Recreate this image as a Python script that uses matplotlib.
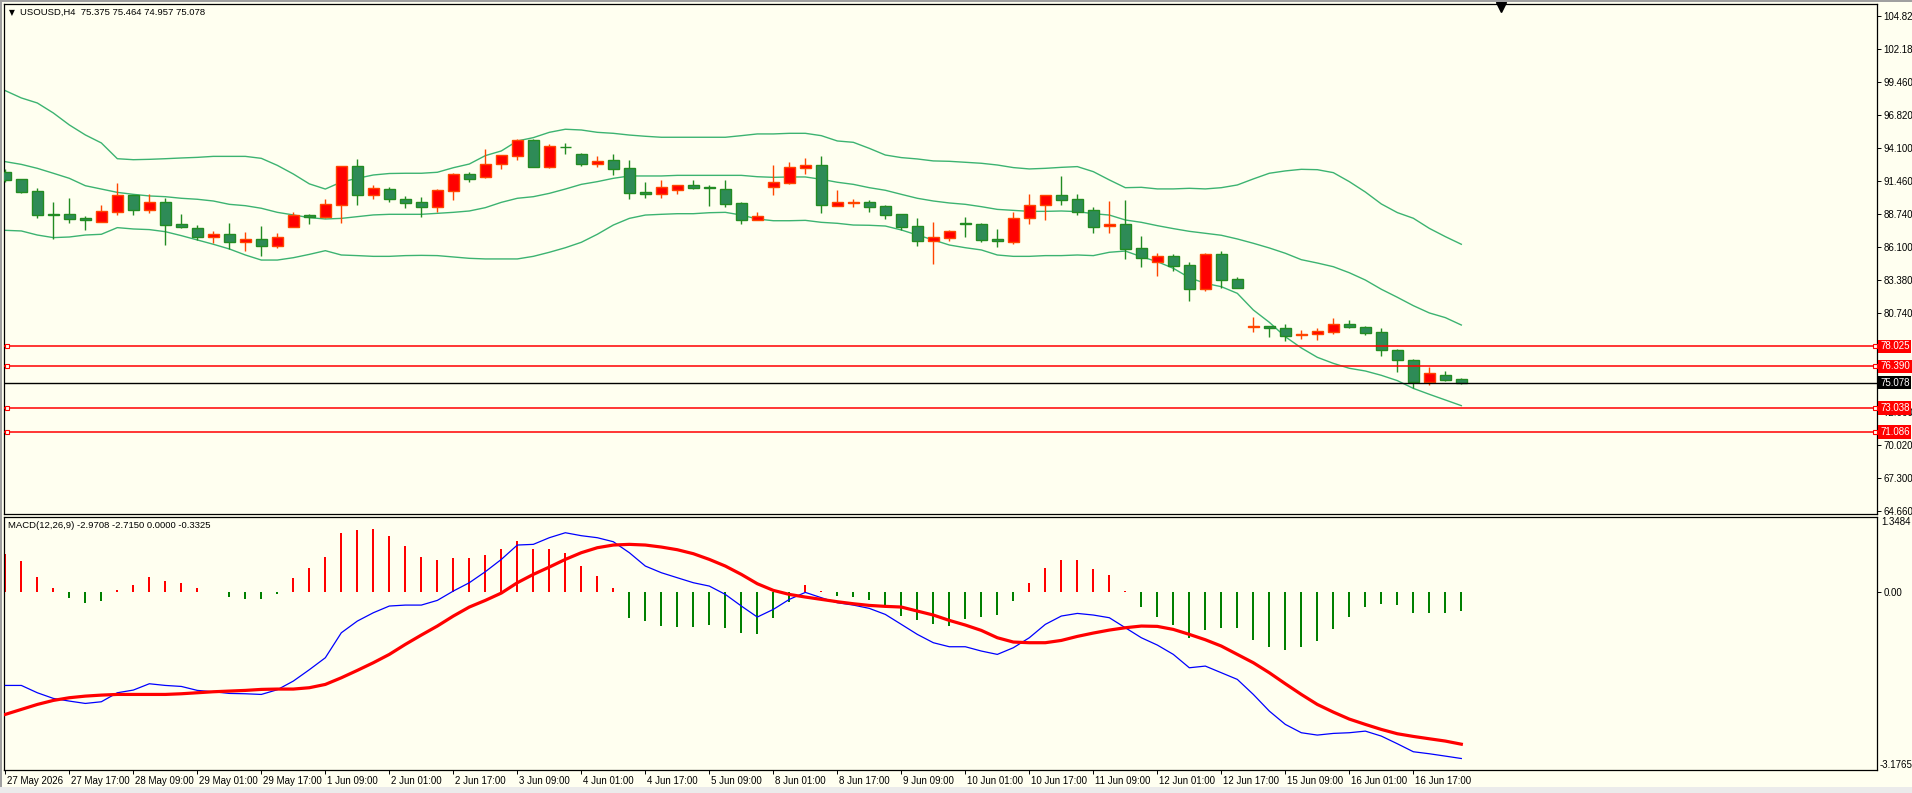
import matplotlib
matplotlib.use("Agg")
import matplotlib.pyplot as plt
import matplotlib.transforms as mtransforms
from matplotlib.patches import Rectangle

plt.rcParams['font.family'] = ['Liberation Sans', 'DejaVu Sans']

W, H, DPI = 1912, 793, 100
BG = '#FFFFF0'

# ---- price data (USOUSD, H4) ----
opens = [92.14, 91.57, 90.60, 88.73, 88.73, 88.41, 88.13, 88.95, 90.30, 89.11,
         89.70, 87.95, 87.59, 86.92, 87.13, 86.51, 86.73, 86.19, 87.73, 88.68,
         88.54, 89.46, 92.62, 90.33, 90.79, 89.97, 89.70, 89.35, 90.65, 91.98,
         91.79, 92.79, 93.49, 94.76, 92.60, 94.22, 93.60, 92.79, 93.11, 92.46,
         90.51, 90.41, 90.73, 91.11, 90.95, 90.76, 89.62, 88.30, 90.97, 91.30,
         92.52, 92.71, 89.43, 89.68, 89.70, 89.41, 88.73, 87.76, 86.59, 86.84,
         88.00, 87.92, 86.70, 86.51, 88.41, 89.46, 90.27, 89.95, 89.05, 87.76,
         87.92, 85.97, 84.89, 85.32, 84.59, 82.70, 85.48, 83.46, 79.56, 79.67,
         79.48, 78.91, 78.99, 79.21, 79.81, 79.56, 79.16, 77.70, 76.89, 75.10,
         75.67, 75.375]
highs = [92.41, 91.60, 90.87, 89.73, 90.05, 88.59, 89.49, 91.27, 90.30, 90.35,
         90.03, 88.76, 87.86, 87.38, 88.03, 87.30, 87.78, 87.22, 88.92, 88.78,
         89.97, 92.62, 93.22, 91.11, 90.95, 90.22, 90.14, 90.79, 92.08, 92.16,
         94.06, 93.54, 94.81, 94.84, 94.41, 94.52, 93.71, 93.46, 93.62, 93.14,
         91.35, 91.52, 91.11, 91.52, 91.11, 91.52, 89.70, 88.92, 92.73, 92.98,
         93.30, 93.46, 90.70, 89.97, 89.89, 89.49, 88.73, 88.43, 88.11, 87.46,
         88.51, 88.00, 87.54, 88.95, 90.38, 90.30, 91.84, 90.38, 89.32, 89.81,
         89.89, 86.97, 85.59, 85.51, 84.86, 85.59, 85.76, 83.65, 80.40, 79.67,
         79.81, 79.32, 79.51, 80.32, 80.16, 79.67, 79.48, 77.78, 76.97, 76.37,
         76.02, 75.464]
lows = [91.33, 90.46, 88.46, 86.76, 88.05, 87.46, 88.13, 88.68, 88.68, 88.84,
        86.24, 87.62, 86.65, 86.40, 85.92, 85.76, 85.35, 86.03, 87.73, 87.95,
        88.46, 88.03, 89.49, 89.97, 89.73, 89.24, 88.51, 88.92, 89.89, 91.35,
        91.70, 92.41, 93.14, 92.60, 92.52, 93.65, 92.68, 92.60, 91.92, 89.97,
        90.08, 90.05, 90.38, 90.79, 89.43, 89.32, 87.97, 88.24, 90.30, 91.19,
        92.00, 88.84, 89.38, 89.32, 88.92, 88.38, 87.43, 86.16, 84.73, 86.57,
        86.92, 86.51, 86.11, 86.35, 87.97, 88.30, 89.51, 88.70, 87.24, 87.24,
        85.13, 84.46, 83.75, 84.16, 81.73, 82.54, 82.73, 82.78, 79.21, 78.81,
        78.48, 78.64, 78.56, 79.05, 79.48, 78.97, 77.26, 75.97, 74.67, 74.91,
        75.24, 74.957]
closes = [91.54, 90.57, 88.70, 88.71, 88.38, 88.30, 88.97, 90.30, 89.11, 89.70,
          87.89, 87.73, 86.92, 87.13, 86.51, 86.70, 86.19, 86.86, 88.65, 88.54,
          89.54, 92.62, 90.30, 90.87, 90.00, 89.68, 89.35, 90.68, 91.98, 91.62,
          92.79, 93.52, 94.76, 92.60, 94.25, 94.17, 92.84, 93.03, 92.43, 90.49,
          90.41, 90.92, 91.08, 90.89, 90.84, 89.60, 88.30, 88.57, 91.33, 92.54,
          92.73, 89.51, 89.70, 89.73, 89.35, 88.70, 87.73, 86.59, 86.86, 87.35,
          87.92, 86.67, 86.59, 88.41, 89.46, 90.27, 89.92, 88.95, 87.73, 87.92,
          85.94, 85.21, 85.32, 84.57, 82.70, 85.48, 83.43, 82.78, 79.64, 79.48,
          78.89, 78.99, 79.24, 79.81, 79.56, 79.13, 77.70, 76.89, 75.10, 75.83,
          75.32, 75.078]

# Bollinger bands
bb_upper = [98.76, 98.17, 97.76, 96.95, 95.98, 95.17, 94.52, 93.24, 93.16, 93.19,
            93.24, 93.30, 93.35, 93.43, 93.43, 93.43, 93.27, 92.70, 92.00, 91.20,
            90.78, 91.35, 91.65, 91.92, 92.04, 92.06, 92.06, 92.14, 92.51, 92.81,
            93.49, 93.87, 94.68, 94.95, 95.38, 95.63, 95.57, 95.38, 95.30, 95.16,
            95.06, 94.98, 94.98, 94.98, 94.98, 94.98, 95.11, 95.25, 95.25, 95.30,
            95.30, 95.11, 94.68, 94.57, 94.08, 93.54, 93.33, 93.22, 93.06, 93.03,
            92.95, 92.87, 92.73, 92.52, 92.41, 92.46, 92.54, 92.60, 92.19, 91.52,
            90.89, 90.92, 90.79, 90.79, 90.84, 90.79, 90.89, 91.11, 91.60, 92.06,
            92.25, 92.38, 92.35, 92.11, 91.38, 90.54, 89.57, 88.87, 88.41, 87.59,
            86.92, 86.30]
bb_middle = [93.00, 92.78, 92.46, 92.06, 91.65, 91.05, 90.78, 90.51, 90.35, 90.22,
             90.16, 90.03, 89.95, 89.81, 89.54, 89.43, 89.22, 88.89, 88.68, 88.46,
             88.35, 88.40, 88.54, 88.68, 88.73, 88.73, 88.73, 88.81, 88.89, 89.00,
             89.27, 89.70, 90.03, 90.16, 90.43, 90.78, 91.16, 91.38, 91.65, 91.84,
             91.84, 91.84, 91.89, 91.89, 91.89, 91.89, 91.89, 91.78, 91.73, 91.76,
             91.76, 91.57, 91.33, 91.16, 90.89, 90.68, 90.35, 90.03, 89.81, 89.65,
             89.54, 89.35, 89.13, 89.05, 88.97, 88.97, 89.00, 88.95, 88.78, 88.67,
             88.27, 88.08, 87.81, 87.57, 87.35, 87.19, 87.03, 86.73, 86.38, 86.00,
             85.57, 85.05, 84.78, 84.48, 83.99, 83.40, 82.65, 82.00, 81.32, 80.73,
             80.35, 79.75]
bb_lower = [87.43, 87.38, 87.05, 86.84, 86.89, 87.05, 87.11, 87.65, 87.54, 87.49,
            87.32, 87.00, 86.65, 86.30, 85.92, 85.43, 85.02, 85.02, 85.21, 85.48,
            85.78, 85.43, 85.38, 85.32, 85.32, 85.38, 85.40, 85.38, 85.27, 85.16,
            85.11, 85.11, 85.11, 85.32, 85.65, 86.02, 86.46, 87.11, 87.86, 88.40,
            88.67, 88.73, 88.78, 88.78, 88.86, 88.89, 88.67, 88.35, 88.21, 88.21,
            88.24, 88.08, 88.00, 87.86, 87.84, 87.78, 87.46, 87.05, 86.65, 86.24,
            86.02, 85.84, 85.43, 85.32, 85.32, 85.38, 85.38, 85.43, 85.38, 85.65,
            85.75, 85.29, 84.89, 84.35, 83.59, 83.13, 82.86, 82.32, 80.97, 79.97,
            78.80, 77.89, 77.13, 76.64, 76.24, 76.02, 75.67, 75.24, 74.61, 74.13,
            73.67, 73.21]

# MACD(12,26,9)
macd_main = [-1.664, -1.664, -1.795, -1.896, -1.944, -1.986, -1.956, -1.795, -1.747, -1.634,
             -1.664, -1.682, -1.753, -1.777, -1.807, -1.813, -1.825, -1.741, -1.586, -1.383,
             -1.169, -0.722, -0.513, -0.364, -0.244, -0.227, -0.227, -0.143, 0.024, 0.173,
             0.370, 0.590, 0.847, 0.859, 0.978, 1.067, 1.014, 0.978, 0.906, 0.710,
             0.471, 0.352, 0.262, 0.173, 0.113, -0.036, -0.244, -0.441, -0.304, -0.125,
             0.000, -0.095, -0.185, -0.227, -0.286, -0.394, -0.572, -0.751, -0.900, -0.972,
             -0.972, -1.049, -1.109, -0.990, -0.811, -0.572, -0.423, -0.376, -0.405, -0.453,
             -0.632, -0.811, -0.942, -1.109, -1.348, -1.318, -1.437, -1.556, -1.825, -2.123,
             -2.361, -2.510, -2.552, -2.522, -2.510, -2.481, -2.570, -2.707, -2.850, -2.886,
             -2.928, -2.971]
macd_signal = [-2.182, -2.093, -2.004, -1.932, -1.884, -1.855, -1.837, -1.825, -1.825, -1.825,
               -1.825, -1.813, -1.795, -1.777, -1.765, -1.753, -1.735, -1.729, -1.729, -1.705,
               -1.646, -1.527, -1.395, -1.258, -1.109, -0.930, -0.763, -0.602, -0.423, -0.262,
               -0.143, -0.012, 0.173, 0.322, 0.453, 0.590, 0.710, 0.799, 0.847, 0.859,
               0.847, 0.811, 0.763, 0.692, 0.590, 0.471, 0.322, 0.155, 0.036, -0.036,
               -0.083, -0.125, -0.167, -0.203, -0.233, -0.250, -0.262, -0.334, -0.405, -0.501,
               -0.584, -0.680, -0.811, -0.888, -0.900, -0.900, -0.859, -0.787, -0.727, -0.674,
               -0.632, -0.602, -0.608, -0.662, -0.751, -0.847, -0.960, -1.109, -1.258, -1.437,
               -1.634, -1.825, -2.004, -2.141, -2.266, -2.361, -2.451, -2.528, -2.576, -2.618,
               -2.659, -2.715]
macd_hist = [0.68, 0.56, 0.27, 0.07, -0.095, -0.19, -0.155, 0.048, 0.13, 0.27,
             0.21, 0.17, 0.07, 0.01, -0.08, -0.11, -0.12, -0.03, 0.25, 0.43,
             0.64, 1.07, 1.12, 1.14, 1.01, 0.83, 0.64, 0.58, 0.62, 0.62,
             0.67, 0.78, 0.92, 0.78, 0.78, 0.70, 0.47, 0.30, 0.07, -0.45,
             -0.51, -0.61, -0.62, -0.62, -0.58, -0.63, -0.73, -0.74, -0.45, -0.17,
             0.13, 0.02, -0.07, -0.08, -0.13, -0.23, -0.43, -0.49, -0.57, -0.61,
             -0.48, -0.44, -0.41, -0.155, 0.17, 0.43, 0.58, 0.58, 0.42, 0.31,
             0.02, -0.26, -0.44, -0.58, -0.81, -0.68, -0.63, -0.64, -0.86, -0.98,
             -1.03, -0.98, -0.87, -0.66, -0.44, -0.26, -0.21, -0.23, -0.37, -0.37,
             -0.37, -0.3325]

levels = [78.025, 76.390, 73.038, 71.086]
bid = 75.078
price_ticks = [104.82, 102.18, 99.46, 96.82, 94.10, 91.46, 88.74, 86.10, 83.38, 80.74,
               72.66, 70.02, 67.30, 64.66]
time_labels = ["27 May 2026", "27 May 17:00", "28 May 09:00", "29 May 01:00", "29 May 17:00",
               "1 Jun 09:00", "2 Jun 01:00", "2 Jun 17:00", "3 Jun 09:00", "4 Jun 01:00",
               "4 Jun 17:00", "5 Jun 09:00", "8 Jun 01:00", "8 Jun 17:00", "9 Jun 09:00",
               "10 Jun 01:00", "10 Jun 17:00", "11 Jun 09:00", "12 Jun 01:00", "12 Jun 17:00",
               "15 Jun 09:00", "16 Jun 01:00", "16 Jun 17:00"]

n = len(closes)
x = list(range(n))

fig = plt.figure(figsize=(W / DPI, H / DPI), dpi=DPI, facecolor=BG)

def px_box(left, top, right, bottom):
    return [left / W, 1 - bottom / H, (right - left) / W, (bottom - top) / H]

ax = fig.add_axes(px_box(4, 4, 1877, 514))
ax2 = fig.add_axes(px_box(4, 517, 1877, 770))
xlim = (-0.083, 116.98)

for a in (ax, ax2):
    a.set_facecolor(BG)
    a.set_xlim(*xlim)
    for s in a.spines.values():
        s.set_color('black')
        s.set_linewidth(0.9)
    a.yaxis.tick_right()
    a.tick_params(axis='y', direction='out', length=3, width=0.7, pad=1.5,
                  labelsize=7, colors='black')

# ---- main chart ----
ax.set_ylim(64.42, 105.79)
ax.set_xticks([])

ax.plot(x, bb_upper, color='#3CB371', lw=1.0, zorder=2)
ax.plot(x, bb_middle, color='#3CB371', lw=1.0, zorder=2)
ax.plot(x, bb_lower, color='#3CB371', lw=1.0, zorder=2)

bw = 0.66
up = [c > o for o, c in zip(opens, closes)]
edge_cols = ['#FF4500' if u else '#228B22' for u in up]
fill_cols = ['#FF0000' if u else '#2E8B57' for u in up]
ax.vlines(x, lows, highs, colors=edge_cols, lw=1.0, zorder=3)
for i in x:
    lo = min(opens[i], closes[i])
    ht = abs(closes[i] - opens[i])
    ax.add_patch(Rectangle((i - bw / 2, lo), bw, ht, facecolor=fill_cols[i],
                           edgecolor=edge_cols[i], lw=1.0, zorder=4))

for lv in levels:
    ax.axhline(lv, color='#FF0000', lw=1.1, zorder=5)
    ax.plot([0.12, 116.84], [lv, lv], 's', mfc=BG, mec='#FF0000', ms=3.3, mew=0.8,
            zorder=6, clip_on=False)
ax.axhline(bid, color='black', lw=1.0, zorder=5)

ax.set_yticks(price_ticks)
ax.set_yticklabels([f"{v:.3f}" for v in price_ticks])

lab_tr = mtransforms.blended_transform_factory(ax.transAxes, ax.transData) + \
    mtransforms.ScaledTranslation(3 / DPI, 0, fig.dpi_scale_trans)
for lv in levels:
    ax.text(1.0, lv, f"{lv:.3f}", transform=lab_tr, color='white', fontsize=7,
            va='center', ha='left', clip_on=False, zorder=10,
            bbox=dict(boxstyle='square,pad=0.18', fc='#FF0000', ec='none'))
ax.text(1.0, bid, f"{bid:.3f}", transform=lab_tr, color='white', fontsize=7,
        va='center', ha='left', clip_on=False, zorder=10,
        bbox=dict(boxstyle='square,pad=0.18', fc='black', ec='none'))

# chart shift marker
ax.plot([93.48], [1 - 3.5 / 510], marker='v', color='black', ms=6.5,
        transform=mtransforms.blended_transform_factory(ax.transData, ax.transAxes),
        clip_on=False, zorder=10)

fig.text(9 / W, 1 - 12.5 / H, "\u25BC", fontsize=5.5, va='center', ha='left',
         family=['DejaVu Sans'])
fig.text(20 / W, 1 - 12.5 / H, "USOUSD,H4  75.375 75.464 74.957 75.078",
         fontsize=6.8, va='center', ha='left')

# ---- MACD ----
ax2.set_ylim(-3.1765, 1.3484)
hist_cols = ['#FF0000' if v > 0 else '#008000' for v in macd_hist]
ax2.bar(x, macd_hist, width=0.14, color=hist_cols, zorder=2)
ax2.plot(x, macd_main, color='#0000FF', lw=0.9, zorder=3)
ax2.plot(x, macd_signal, color='#FF0000', lw=2.3, zorder=4)

ax2.set_yticks([0.0])
ax2.set_yticklabels(["0.00"])
ax2.text(1.0, 1.0, "1.3484", transform=ax2.transAxes + mtransforms.ScaledTranslation(4 / DPI, 0, fig.dpi_scale_trans),
         fontsize=7, va='top', ha='left', clip_on=False)
ax2.text(1.0, 0.0, "-3.1765", transform=ax2.transAxes + mtransforms.ScaledTranslation(3 / DPI, 0, fig.dpi_scale_trans),
         fontsize=7, va='bottom', ha='left', clip_on=False)
fig.text(8 / W, 1 - 526 / H, "MACD(12,26,9) -2.9708 -2.7150 0.0000 -0.3325",
         fontsize=6.8, va='center', ha='left')

ax2.set_xticks(x[::4][:len(time_labels)])
ax2.set_xticklabels(time_labels)
ax2.tick_params(axis='x', direction='out', length=3, width=0.7, pad=1.5,
                labelsize=7, colors='black')
off = mtransforms.ScaledTranslation(2 / DPI, 0, fig.dpi_scale_trans)
for lbl in ax2.get_xticklabels():
    lbl.set_horizontalalignment('left')
    lbl.set_transform(lbl.get_transform() + off)

# window frame bits
fig.patches.append(Rectangle((0, 1 - 2 / H), 1, 2 / H, transform=fig.transFigure,
                             facecolor='#A0A0A0', edgecolor='none', zorder=0))
fig.patches.append(Rectangle((0, 0), 2 / W, 1, transform=fig.transFigure,
                             facecolor='#A0A0A0', edgecolor='none', zorder=0))
fig.patches.append(Rectangle((0, 0), 1, 6 / H, transform=fig.transFigure,
                             facecolor='#EBEBEB', edgecolor='none', zorder=0))

fig.savefig("out.png", dpi=DPI, facecolor=BG)
